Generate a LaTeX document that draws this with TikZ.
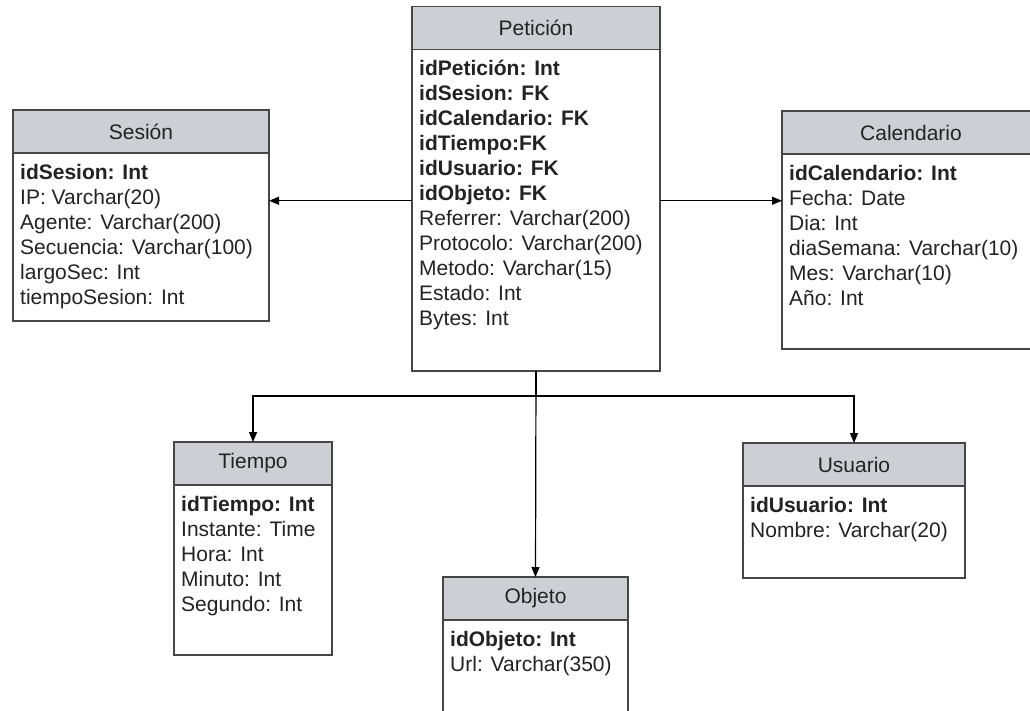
\documentclass[tikz,border=0pt]{standalone}
\usepackage{fontspec}
\setmainfont{Liberation Sans}
\usetikzlibrary{arrows.meta,positioning}

\definecolor{hdrgray}{RGB}{204,207,212}
\definecolor{edgegray}{RGB}{70,70,70}
\definecolor{txtgray}{RGB}{35,35,35}

\tikzset{
  tblhead/.style={draw=edgegray, line width=1.8pt, fill=hdrgray, minimum height=43pt,
    inner sep=0pt, outer sep=0pt, font=\fontsize{21}{25}\selectfont, text=txtgray},
  tblbody/.style={draw=edgegray, line width=1.8pt, fill=white, inner sep=0pt, outer sep=0pt},
  fields/.style={align=left, inner sep=0pt, anchor=north west,
    font=\fontsize{21}{25}\selectfont, text=txtgray},
  link/.style={draw=black, line width=1.2pt, -{Triangle[length=10pt,width=8pt]}},
}

\begin{document}
\begin{tikzpicture}[x=1pt,y=-1pt]
  \useasboundingbox (0,0) rectangle (1030,711);
  % Peticion (hechos)
  \node[tblhead, minimum width=248pt] (peth) at (536,28) {Petición};
  \node[tblbody, minimum width=248pt, minimum height=321.5pt, below=0pt of peth] (petb) {};
  \node[fields] (petf) at ([xshift=7pt,yshift=-8.5pt]petb.north west)
    {\strut\textbf{idPetición: Int}\\ \textbf{idSesion: FK}\\ \textbf{idCalendario: FK}\\
     \textbf{idTiempo:FK}\\ \textbf{idUsuario: FK}\\ \textbf{idObjeto: FK}\\
     Referrer: Varchar(200)\\ Protocolo: Varchar(200)\\ Metodo: Varchar(15)\\
     Estado: Int\\ Bytes: Int};
  % Sesion
  \node[tblhead, minimum width=256pt] (sesh) at (141,131.5) {Sesión};
  \node[tblbody, minimum width=256pt, minimum height=168pt, below=0pt of sesh] (sesb) {};
  \node[fields] (sesf) at ([xshift=7pt,yshift=-8.5pt]sesb.north west)
    {\strut\textbf{idSesion: Int}\\ IP: Varchar(20)\\ Agente: Varchar(200)\\
     Secuencia: Varchar(100)\\ largoSec: Int\\ tiempoSesion: Int};
  % Calendario
  \node[tblhead, minimum width=258pt] (calh) at (911,132.5) {Calendario};
  \node[tblbody, minimum width=258pt, minimum height=195pt, below=0pt of calh] (calb) {};
  \node[fields] (calf) at ([xshift=7pt,yshift=-8.5pt]calb.north west)
    {\strut\textbf{idCalendario: Int}\\ Fecha: Date\\ Dia: Int\\
     diaSemana: Varchar(10)\\ Mes: Varchar(10)\\ Año: Int};
  % Tiempo
  \node[tblhead, minimum width=158pt] (tieh) at (253,463.5) {Tiempo};
  \node[tblbody, minimum width=158pt, minimum height=170pt, below=0pt of tieh] (tieb) {};
  \node[fields] (tief) at ([xshift=7pt,yshift=-8.5pt]tieb.north west)
    {\strut\textbf{idTiempo: Int}\\ Instante: Time\\ Hora: Int\\ Minuto: Int\\ Segundo: Int};
  % Usuario
  \node[tblhead, minimum width=222pt] (usuh) at (854,464.5) {Usuario};
  \node[tblbody, minimum width=222pt, minimum height=92pt, below=0pt of usuh] (usub) {};
  \node[fields] (usuf) at ([xshift=7pt,yshift=-8.5pt]usub.north west)
    {\strut\textbf{idUsuario: Int}\\ Nombre: Varchar(20)};
  % Objeto
  \node[tblhead, minimum width=185pt] (objh) at (535.5,598.5) {Objeto};
  \node[tblbody, minimum width=185pt, minimum height=130pt, below=0pt of objh] (objb) {};
  \node[fields] (objf) at ([xshift=7pt,yshift=-8.5pt]objb.north west)
    {\strut\textbf{idObjeto: Int}\\ Url: Varchar(350)};
  % Relaciones
  \draw[link] ([yshift=9.5pt]petb.west) -- ([yshift=9.5pt]petb.west -| sesb.east);
  \draw[link] ([yshift=9.5pt]petb.east) -- ([yshift=9.5pt]petb.east -| calb.west);
  \coordinate (split) at ([yshift=-25pt]petb.south);
  \draw[link] (petb.south) -- (split) -| (tieh.north);
  \draw[link] (split) -| (usuh.north);
  \draw[link] (petb.south) -- (objh.north);
\end{tikzpicture}
\end{document}
